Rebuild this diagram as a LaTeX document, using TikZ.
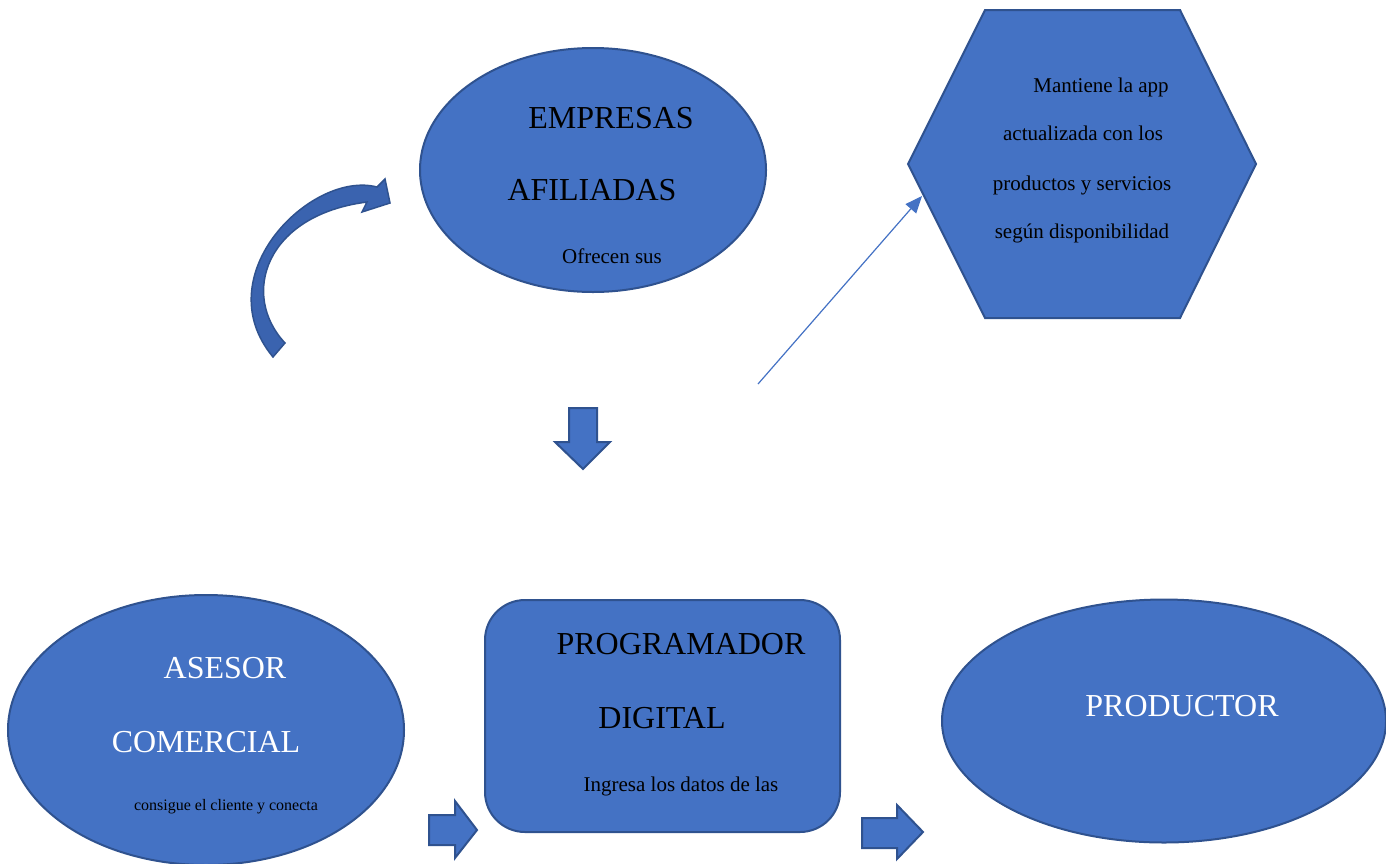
\documentclass[tikz,border=0pt]{standalone}
\usepackage{fontspec}
\setmainfont{Liberation Serif}
\usetikzlibrary{arrows.meta,shapes.geometric}
\definecolor{fillblue}{HTML}{4472C4}
\definecolor{edgeblue}{HTML}{2F528F}
\definecolor{curvblue}{HTML}{3A63AF}
\tikzset{
  shapebox/.style={draw=edgeblue,fill=fillblue,line width=2pt,inner sep=0pt},
  blockarrow/.style={draw=edgeblue,fill=fillblue,line width=2pt,line join=miter},
  bigtxt/.style={anchor=base,font=\fontsize{32}{36}\selectfont},
  midtxt/.style={anchor=base,font=\fontsize{21}{25}\selectfont},
  smalltxt/.style={anchor=base,font=\fontsize{16}{19}\selectfont},
}
\begin{document}
\begin{tikzpicture}[x=1pt,y=-1pt]
\useasboundingbox (0,0) rectangle (1386,863);

% EMPRESAS AFILIADAS
\node[shapebox,ellipse,minimum width=346pt,minimum height=244pt] (emp) at (593,170) {};
\node[bigtxt] (emp1) at (611,128) {EMPRESAS};
\node[bigtxt] (emp2) at (592,200) {AFILIADAS};
\node[midtxt] (emp3) at (612,263) {Ofrecen sus};

% Hexagon
\coordinate (h1) at (985,10);
\coordinate (h2) at (1180,10);
\coordinate (h3) at (1256,164);
\coordinate (h4) at (1180,318);
\coordinate (h5) at (985,318);
\coordinate (h6) at (908,164);
\draw[shapebox] (h1) -- (h2) -- (h3) -- (h4) -- (h5) -- (h6) -- cycle;
\node[midtxt] (hx1) at (1101,92) {Mantiene la app};
\node[midtxt] (hx2) at (1083,140) {actualizada con los};
\node[midtxt] (hx3) at (1082,190) {productos y servicios};
\node[midtxt] (hx4) at (1082,238) {según disponibilidad};

% thin arrow
\coordinate (ta) at (758,384);
\coordinate (tb) at (922,196);
\draw[fillblue,line width=1.2pt,-{Triangle[length=17pt,width=14pt]}] (ta) -- (tb);

% curved block arrow
\coordinate (ctip) at (390,203);
\draw[draw=edgeblue,fill=curvblue,line width=1.5pt,line join=miter]
  (377,187) .. controls (312,170) and (205,275) .. (273,357)
  -- (285,343)
  .. controls (240,295) and (265,215) .. (367,202)
  -- (362,212) -- (ctip) -- (385,179) -- cycle;

% down block arrow
\draw[blockarrow] (569,408) -- (597,408) -- (597,442) -- (610,442) -- (583,469) -- (555,442) -- (569,442) -- cycle;

% ASESOR COMERCIAL
\node[shapebox,ellipse,minimum width=396pt,minimum height=270pt] (ase) at (206,730) {};
\node[bigtxt,text=white] (ase1) at (225,678) {ASESOR};
\node[bigtxt,text=white] (ase2) at (206,752) {COMERCIAL};
\node[smalltxt] (ase3) at (226,810) {consigue el cliente y conecta};

% right arrow 1
\draw[blockarrow] (429,815) -- (455,815) -- (455,801) -- (477,830) -- (455,858) -- (455,845) -- (429,845) -- cycle;

% PROGRAMADOR DIGITAL
\node[shapebox,rectangle,rounded corners=40pt,minimum width=355pt,minimum height=232pt] (prog) at (662.5,716) {};
\node[bigtxt] (prog1) at (681,654) {PROGRAMADOR};
\node[bigtxt] (prog2) at (662,728) {DIGITAL};
\node[midtxt] (prog3) at (681,791) {Ingresa los datos de las};

% right arrow 2
\draw[blockarrow] (862,818) -- (897,818) -- (897,805) -- (923,832) -- (897,859) -- (897,848) -- (862,848) -- cycle;

% PRODUCTOR
\node[shapebox,ellipse,minimum width=444pt,minimum height=243pt] (prod) at (1164,721) {};
\node[bigtxt,text=white] (prod1) at (1182,716) {PRODUCTOR};
\end{tikzpicture}
\end{document}
